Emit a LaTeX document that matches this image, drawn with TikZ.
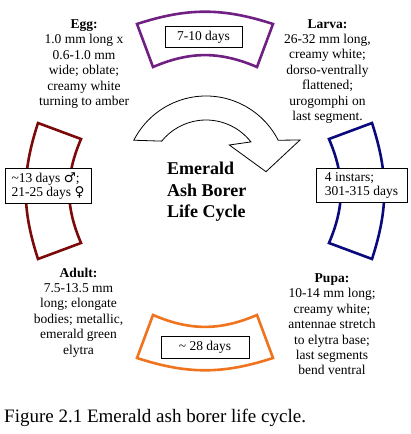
\documentclass[tikz,border=0pt]{standalone}
\usepackage{fontspec}
\setmainfont{Liberation Serif}
\newfontfamily\genderfont{DejaVu Sans}
\usepackage{xcolor}
\usepackage{tikz}
\usetikzlibrary{positioning}
\definecolor{eggcolor}{RGB}{112, 32, 130}
\definecolor{larvacolor}{RGB}{10, 10, 125}
\definecolor{pupacolor}{RGB}{240, 115, 30}
\definecolor{adultcolor}{RGB}{125, 10, 10}

\tikzset{
    stagetext/.style={align=center, inner sep=0pt, anchor=north,
        font=\fontsize{13.5}{15.4}\selectfont},
    daysbox/.style={draw, fill=white, line width=0.8pt, inner sep=4pt,
        font=\fontsize{13.5}{13.8}\selectfont},
    cyclearrow/.style={draw=black, fill=white, line width=0.8pt, line join=miter},
}

\begin{document}
\begin{tikzpicture}[x=1pt, y=1pt]
        \useasboundingbox (0,0) rectangle (410,434);
        % Ring segments around the cycle
        \foreach \ang/\col in {0/eggcolor, -90/larvacolor, 180/pupacolor, 90/adultcolor} {
            \begin{scope}[shift={(205,243)}, rotate=\ang]
                \draw[\col, line width=2.6pt, fill=white, line join=miter]
                    (-68,167) to[bend left=18] (68,167) -- (52,124)
                    to[bend right=23] (-52,124) -- cycle;
            \end{scope}
        }
        % Curved arrow in the middle
        \coordinate (arrowc) at (206,257);
        \draw[cyclearrow] ([shift={(153:81)}]arrowc) arc[start angle=153, end angle=27, radius=81]
            -- (300,294) -- (266,262.3) -- (229.3,289)
            -- ([shift={(38:57)}]arrowc) arc[start angle=38, end angle=141, radius=57] -- cycle;
        % Title
        \node[align=left, inner sep=0pt, anchor=north west,
            font=\bfseries\fontsize{18}{21.5}\selectfont] (title) at (167,272)
            {Emerald\\Ash Borer\\Life Cycle};
        % Stage descriptions
        \node[stagetext] (egg) at (84,414.5)
            {\textbf{Egg:}\\1.0 mm long x\\0.6-1.0 mm\\wide; oblate;\\creamy white\\turning to amber};
        \node[stagetext] (larva) at (327.5,415)
            {\textbf{Larva:}\\26-32 mm long,\\creamy white;\\dorso-ventrally\\flattened;\\urogomphi on\\last segment.};
        \node[stagetext] (pupa) at (332,160.5)
            {\textbf{Pupa:}\\10-14 mm long;\\creamy white;\\antennae stretch\\to elytra base;\\last segments\\bend ventral};
        \node[stagetext] (adult) at (78.5,166.5)
            {\textbf{Adult:}\\7.5-13.5 mm\\long; elongate\\bodies; metallic,\\emerald green\\elytra};
        % Duration boxes
        \node[daysbox, minimum width=77pt, minimum height=20pt] (eggdays) at (203.5,397) {7-10 days};
        \node[daysbox, align=left, minimum width=91pt, minimum height=34pt] (larvadays) at (361.5,248.5)
            {4 instars;\\301-315 days};
        \node[daysbox, minimum width=88pt, minimum height=22pt] (pupadays) at (205,87) {\textasciitilde{} 28 days};
        \node[daysbox, align=left, minimum width=86pt, minimum height=34pt] (adultdays) at (48,248)
            {\textasciitilde13 days {\genderfont ♂};\\21-25 days {\genderfont ♀}};
        % Caption
        \node[inner sep=0pt, anchor=base west, font=\fontsize{19}{22}\selectfont] (caption) at (4,12)
            {Figure 2.1 Emerald ash borer life cycle.};
    \end{tikzpicture}
\end{document}
